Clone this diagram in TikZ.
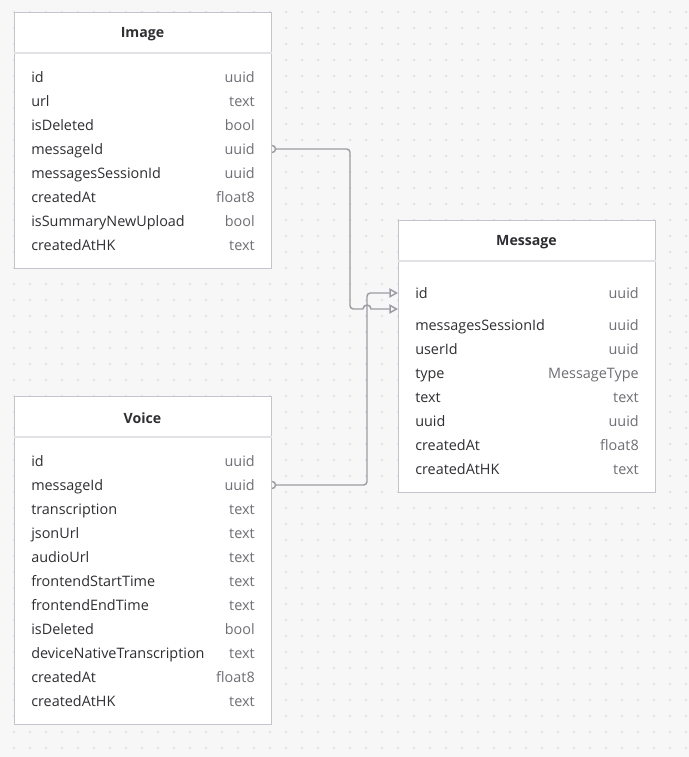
\documentclass[tikz,border=0pt]{standalone}
\usepackage{fontspec}
\setmainfont{Open Sans}
\usetikzlibrary{arrows.meta}

\definecolor{canvas}{HTML}{F7F7F8}
\definecolor{griddot}{HTML}{D6D6DC}
\definecolor{tableline}{HTML}{C4C4CC}
\definecolor{headline}{HTML}{E2E2E6}
\definecolor{fieldtext}{HTML}{2F2F33}
\definecolor{typetext}{HTML}{6E6E74}
\definecolor{relline}{HTML}{9C9CA2}

\tikzset{
  table/.style={draw=tableline, fill=white, line width=0.8pt, anchor=north west, inner sep=0pt},
  title/.style={font=\fontsize{10.6}{12}\selectfont\bfseries, text=fieldtext},
  field/.style={anchor=base west, inner sep=0pt, font=\fontsize{10.8}{12}\selectfont, text=fieldtext},
  ftype/.style={anchor=base east, inner sep=0pt, font=\fontsize{10.8}{12}\selectfont, text=typetext},
  rel/.style={draw=relline, line width=1.1pt},
  tip/.style={-{Triangle[open, length=6.5pt, width=7pt, line join=miter]}},
}

\begin{document}
\begin{tikzpicture}[x=0.75pt, y=-0.75pt]
\useasboundingbox[fill=canvas] (0,0) rectangle (689,757);

% dotted canvas
\foreach \gx in {0,...,42}
  \foreach \gy in {0,...,46}
    \fill[griddot] (14+16*\gx, 12+16*\gy) circle[radius=1];

% Image table
\node[table, minimum width=192.75pt, minimum height=192pt] (image) at (14,12) {};
\draw[headline, line width=0.8pt] (image.west |- 0,53) -- (image.east |- 0,53);
\node[title] (image-title) at (142.5,34) {Image};
\foreach \fname/\ftype [count=\i] in {id/uuid, url/text, isDeleted/bool, messageId/uuid,
    messagesSessionId/uuid, createdAt/float8, isSummaryNewUpload/bool, createdAtHK/text} {
  \node[field] (img-name-\i) at (31, 58+24*\i) {\fname};
  \node[ftype] (img-type-\i) at (255, 58+24*\i) {\ftype};
}

% Voice table
\node[table, minimum width=192.75pt, minimum height=246pt] (voice) at (14,396) {};
\draw[headline, line width=0.8pt] (voice.west |- 0,437) -- (voice.east |- 0,437);
\node[title] (voice-title) at (142.5,418) {Voice};
\foreach \fname/\ftype [count=\i] in {id/uuid, messageId/uuid, transcription/text, jsonUrl/text,
    audioUrl/text, frontendStartTime/text, frontendEndTime/text, isDeleted/bool,
    deviceNativeTranscription/text, createdAt/float8, createdAtHK/text} {
  \node[field] (vo-name-\i) at (31, 442+24*\i) {\fname};
  \node[ftype] (vo-type-\i) at (255, 442+24*\i) {\ftype};
}

% Message table
\node[table, minimum width=192.75pt, minimum height=204pt] (message) at (398,220) {};
\draw[headline, line width=0.8pt] (message.west |- 0,261) -- (message.east |- 0,261);
\node[title] (message-title) at (526.5,242) {Message};
\node[field] (msg-name-0) at (415,298) {id};
\node[ftype] (msg-type-0) at (639,298) {uuid};
\foreach \fname/\ftype [count=\i] in {messagesSessionId/uuid, userId/uuid, type/MessageType,
    text/text, uuid/uuid, createdAt/float8, createdAtHK/text} {
  \node[field] (msg-name-\i) at (415, 306+24*\i) {\fname};
  \node[ftype] (msg-type-\i) at (639, 306+24*\i) {\ftype};
}

% relations
\coordinate (img-src) at (image.east |- 0,149);
\coordinate (vo-src) at (voice.east |- 0,485);
\coordinate (msg-in1) at (message.west |- 0,293);
\coordinate (msg-in2) at (message.west |- 0,309);
\coordinate (hop) at (363,309);

\draw[rel] (img-src) ++(0,-3.5) arc[start angle=-90, end angle=90, radius=3.5];
\draw[rel] (vo-src) ++(0,-3.5) arc[start angle=-90, end angle=90, radius=3.5];

\draw[rel, rounded corners=2.5pt] (img-src) ++(3.5,0) -- (350,149) -- (350,309) -- (hop);
\draw[rel, tip] (hop) arc[start angle=180, end angle=360, radius=4] -- (msg-in2);
\draw[rel, tip] (vo-src) ++(3.5,0) [rounded corners=2.5pt] -- (367,485) -- (367,293)
  [sharp corners] -- (msg-in1);
\end{tikzpicture}
\end{document}
